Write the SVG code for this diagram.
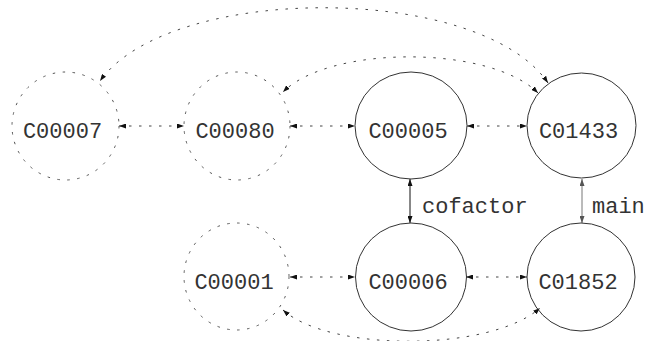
<svg xmlns="http://www.w3.org/2000/svg" width="650" height="341" viewBox="0 0 650 341">
<style>
.solid{fill:none;stroke:#333;stroke-width:1}
.dash{fill:none;stroke:#555;stroke-width:1;stroke-dasharray:2.5,7.5}
.lbl{font-family:"Liberation Mono","DejaVu Sans Mono",monospace;font-size:22px;fill:#333;text-anchor:middle}
.elbl{font-family:"Liberation Mono","DejaVu Sans Mono",monospace;font-size:22px;fill:#333}
.edot{fill:none;stroke:#444;stroke-width:1;stroke-dasharray:2.5,7.5}
.esol{fill:none;stroke:#111;stroke-width:1}
.egray{fill:none;stroke:#777;stroke-width:1}
</style>
<defs>
<marker id="ah" viewBox="0 0 7 5" refX="7" refY="2.5" markerWidth="7" markerHeight="5" markerUnits="userSpaceOnUse" orient="auto-start-reverse">
<path d="M0,0 L7,2.5 L0,5 Z" fill="#111" stroke="none"/>
</marker>
<marker id="ahg" viewBox="0 0 7 5" refX="7" refY="2.5" markerWidth="7" markerHeight="5" markerUnits="userSpaceOnUse" orient="auto-start-reverse">
<path d="M0,0 L7,2.5 L0,5 Z" fill="#555" stroke="none"/>
</marker>
</defs>
<g id="edges">
<path class="edot" d="M119,126 L184,126" marker-start="url(#ah)" marker-end="url(#ah)"/>
<path class="edot" d="M290,126 L355,126" marker-start="url(#ah)" marker-end="url(#ah)"/>
<path class="edot" d="M467,126 L527,126" marker-start="url(#ah)" marker-end="url(#ah)"/>
<path class="edot" d="M290,277 L355,277" marker-start="url(#ah)" marker-end="url(#ah)"/>
<path class="edot" d="M466,277 L527,277" marker-start="url(#ah)" marker-end="url(#ah)"/>
<path class="edot" d="M548,83 C480,-17 170,-17 100,81" marker-start="url(#ah)" marker-end="url(#ah)"/>
<path class="edot" d="M538,93 C490,45 330,45 283,92" marker-start="url(#ah)" marker-end="url(#ah)"/>
<path class="edot" d="M283,310 C330,352 490,352 540,308" marker-start="url(#ah)" marker-end="url(#ah)"/>
<path class="esol" d="M410,179 L410,223" marker-start="url(#ah)" marker-end="url(#ah)"/>
<path class="egray" d="M582,179 L582,223" marker-start="url(#ahg)" marker-end="url(#ahg)"/>
<text class="elbl" x="422" y="213">cofactor</text>
<text class="elbl" x="592" y="213">main</text>
</g>
<g id="C00007"><ellipse class="dash" cx="65.5" cy="126" rx="53.5" ry="54"/><text class="lbl" x="62.5" y="138">C00007</text></g>
<g id="C00080"><ellipse class="dash" cx="237" cy="126" rx="53" ry="54"/><text class="lbl" x="235" y="138">C00080</text></g>
<g id="C00005"><ellipse class="solid" cx="411" cy="125.5" rx="56" ry="53.5"/><text class="lbl" x="408" y="138">C00005</text></g>
<g id="C01433"><ellipse class="solid" cx="581.5" cy="125.5" rx="54.5" ry="52.5"/><text class="lbl" x="578.5" y="138">C01433</text></g>
<g id="C00001"><ellipse class="dash" cx="236.5" cy="276.5" rx="52.5" ry="53.5"/><text class="lbl" x="234" y="289">C00001</text></g>
<g id="C00006"><ellipse class="solid" cx="411" cy="277" rx="55.5" ry="54"/><text class="lbl" x="408" y="289">C00006</text></g>
<g id="C01852"><ellipse class="solid" cx="581" cy="277" rx="54" ry="54"/><text class="lbl" x="578" y="289">C01852</text></g>
</svg>
